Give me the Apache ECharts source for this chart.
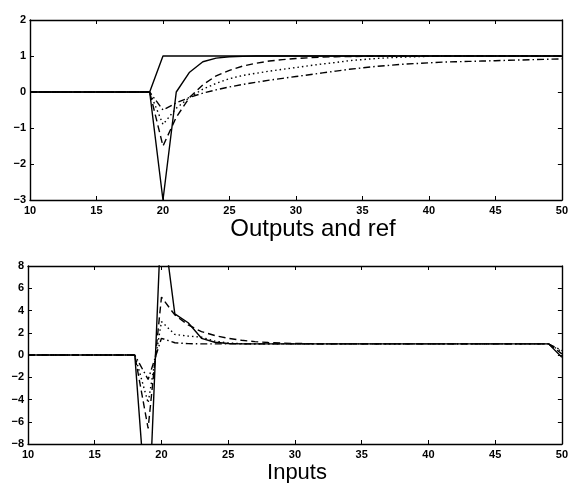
<!DOCTYPE html>
<html>
<head>
    <meta charset="utf-8">
    <title>Outputs and inputs</title>
    <script src="https://cdn.jsdelivr.net/npm/echarts@6/dist/echarts.min.js"></script>
</head>
<body style="margin:0">
<div id="main" style="width:571px;height:483px;"></div>
<script>
    // sample times 10..50
    var t = [];
    for (var k = 10; k <= 50; k++) t.push(k);

    // upper plot: reference and four outputs
    var refY    = [0,0,0,0,0,0,0,0,0,0, 1,1,1,1,1,1,1,1,1,1, 1,1,1,1,1,1,1,1,1,1, 1,1,1,1,1,1,1,1,1,1, 1];
    var outSolid = [0,0,0,0,0,0,0,0,0,0, -3,0,0.55,0.84,0.94,0.98,0.99,1,1,1, 1,1,1,1,1,1,1,1,1,1, 1,1,1,1,1,1,1,1,1,1, 1];
    var outDash  = [0,0,0,0,0,0,0,0,0,0, -1.5,-0.7,-0.15,0.2,0.45,0.6,0.72,0.8,0.86,0.9, 0.93,0.95,0.97,0.98,0.985,0.99,0.995,1,1,1, 1,1,1,1,1,1,1,1,1,1, 1];
    var outDot   = [0,0,0,0,0,0,0,0,0,0, -0.9,-0.45,-0.15,0.08,0.24,0.37,0.46,0.52,0.58,0.63, 0.68,0.73,0.78,0.82,0.87,0.9,0.93,0.95,0.97,0.98, 0.99,1,1,1,1,1,1,1,1,1, 1];
    var outDashDot = [0,0,0,0,0,0,0,0,0,0, -0.5,-0.3,-0.15,-0.03,0.06,0.14,0.21,0.27,0.33,0.38, 0.43,0.48,0.53,0.58,0.63,0.67,0.71,0.74,0.77,0.79, 0.81,0.83,0.84,0.85,0.86,0.87,0.88,0.89,0.9,0.91, 0.92];

    // lower plot: four inputs
    var inSolid = [0,0,0,0,0,0,0,0,0, -16,13,3.7,2.9,1.5,1.15,1.03,1,1,1,1, 1,1,1,1,1,1,1,1,1,1, 1,1,1,1,1,1,1,1,1,1, -0.2];
    var inDash  = [0,0,0,0,0,0,0,0,0, -6.6,5.2,3.6,2.7,2.1,1.75,1.5,1.32,1.2,1.12,1.07, 1.04,1.02,1,1,1,1,1,1,1,1, 1,1,1,1,1,1,1,1,1,1, 0.1];
    var inDot   = [0,0,0,0,0,0,0,0,0, -4.3,3.0,1.85,1.7,1.6,1.25,1.08,1.02,1,1,1, 1,1,1,1,1,1,1,1,1,1, 1,1,1,1,1,1,1,1,1,1, 0.3];
    var inDashDot = [0,0,0,0,0,0,0,0,0, -2.2,1.5,1.1,1.02,1,1,1,1,1,1,1, 1,1,1,1,1,1,1,1,1,1, 1,1,1,1,1,1,1,1,1,1, 0.4];

    function pairs(v) {
        return t.map(function (x, i) { return [x, v[i]]; });
    }

    var font = 'Liberation Sans';
    var minus = function (v) { return String(v).replace('-', '\u2212'); };

    function xAx(grid, pos, show) {
        return {
            type: 'value', gridIndex: grid, position: pos, min: 10, max: 50, interval: 5,
            axisLine: { show: true, onZero: false, lineStyle: { color: '#000', width: 1.4 } },
            axisTick: { show: true, inside: true, length: 4, lineStyle: { color: '#000' } },
            axisLabel: { show: show, color: '#000', fontSize: 11, fontWeight: 'bold', fontFamily: font, margin: 5 },
            splitLine: { show: false }
        };
    }
    function yAx(grid, pos, show, mn, mx, step) {
        return {
            type: 'value', gridIndex: grid, position: pos, min: mn, max: mx, interval: step,
            axisLine: { show: true, onZero: false, lineStyle: { color: '#000', width: 1.4 } },
            axisTick: { show: true, inside: true, length: 4, lineStyle: { color: '#000' } },
            axisLabel: { show: show, color: '#000', fontSize: 11, fontWeight: 'bold', fontFamily: font, margin: 4, formatter: minus },
            splitLine: { show: false }
        };
    }
    function line(name, v, xi, yi, type) {
        return {
            name: name, type: 'line', xAxisIndex: xi, yAxisIndex: yi, data: pairs(v),
            symbol: 'none', clip: true,
            lineStyle: { color: '#000', width: 1.4, type: type }
        };
    }

    var myChart = echarts.init(document.getElementById('main'));
    myChart.setOption({
        animation: false,
        backgroundColor: '#fff',
        grid: [
            { left: 30, top: 20, width: 536, height: 180 },
            { left: 28, top: 266, width: 536, height: 178 }
        ],
        xAxis: [xAx(0, 'bottom', true), xAx(0, 'top', false), xAx(1, 'bottom', true), xAx(1, 'top', false)],
        yAxis: [yAx(0, 'left', true, -3, 2, 1), yAx(0, 'right', false, -3, 2, 1),
                yAx(1, 'left', true, -8, 8, 2), yAx(1, 'right', false, -8, 8, 2)],
        graphic: [
            { type: 'text', x: 313, y: 217, style: { text: 'Outputs and ref', font: '24px "Liberation Sans"', fill: '#000', textAlign: 'center', textVerticalAlign: 'top' } },
            { type: 'text', x: 297, y: 462, style: { text: 'Inputs', font: '22px "Liberation Sans"', fill: '#000', textAlign: 'center', textVerticalAlign: 'top' } }
        ],
        series: [
            line('ref', refY, 0, 0, 'solid'),
            line('out1', outSolid, 0, 0, 'solid'),
            line('out2', outDash, 0, 0, [7, 4]),
            line('out3', outDot, 0, 0, [1.5, 3]),
            line('out4', outDashDot, 0, 0, [7, 3, 1.5, 3]),
            line('in1', inSolid, 2, 2, 'solid'),
            line('in2', inDash, 2, 2, [7, 4]),
            line('in3', inDot, 2, 2, [1.5, 3]),
            line('in4', inDashDot, 2, 2, [7, 3, 1.5, 3])
        ]
    });
</script>
</body>
</html>
